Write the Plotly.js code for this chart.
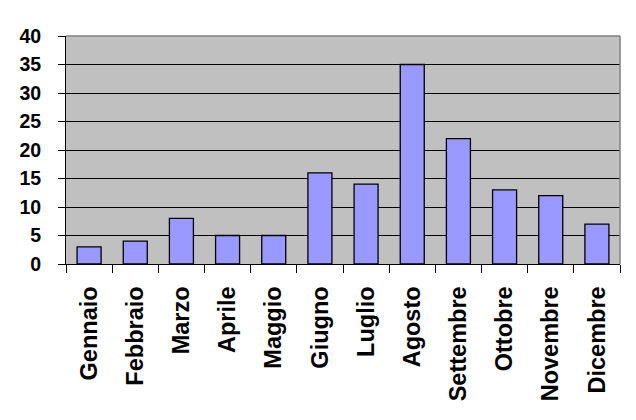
<!DOCTYPE html>
<html>
<head>
<meta charset="utf-8">
<script src="https://cdn.plot.ly/plotly-3.0.1.min.js"></script>
<style>
  html, body { margin: 0; padding: 0; background: #fff; }
  #chart { width: 636px; height: 420px; }
</style>
</head>
<body>
<div id="chart"></div>
<script>
const months = ['Gennaio', 'Febbraio', 'Marzo', 'Aprile', 'Maggio', 'Giugno',
                'Luglio', 'Agosto', 'Settembre', 'Ottobre', 'Novembre', 'Dicembre'];
const counts = [3, 4, 8, 5, 5, 16, 14, 35, 22, 13, 12, 7];
const yTicks = [0, 5, 10, 15, 20, 25, 30, 35, 40];

const font = 'Liberation Sans, Arial, sans-serif';

const trace = {
    type: 'bar',
    x: months,
    y: counts,
    marker: { color: '#9999ff', line: { color: '#000', width: 1.3 } },
    hoverinfo: 'x+y'
};

const layout = {
    width: 636,
    height: 420,
    margin: { l: 66, r: 16, t: 36, b: 156 },
    paper_bgcolor: '#fff',
    plot_bgcolor: '#c0c0c0',
    showlegend: false,
    bargap: 0.48,
    font: { family: font, color: '#000' },
    xaxis: {
        type: 'category',
        tickangle: -90,
        tickson: 'boundaries',
        ticks: 'outside',
        ticklen: 8,
        tickcolor: '#000',
        tickwidth: 1,
        showgrid: false,
        showline: true,
        linecolor: '#000',
        linewidth: 1,
        tickfont: { family: font, size: 23.5, weight: 'bold', color: '#000' },
        ticklabelstandoff: 12
    },
    yaxis: {
        range: [0, 40],
        tickvals: yTicks,
        ticktext: yTicks.map(String),
        ticks: 'outside',
        ticklen: 7,
        tickcolor: '#000',
        showgrid: true,
        gridcolor: '#000',
        gridwidth: 1,
        zeroline: false,
        showline: true,
        linecolor: '#000',
        linewidth: 1,
        tickfont: { family: font, size: 19.5, weight: 'bold', color: '#000' },
        ticklabelstandoff: 13
    },
    shapes: [
        // grey frame on the top and right of the plot area
        { type: 'line', xref: 'paper', yref: 'paper', x0: 0, x1: 1, y0: 1, y1: 1,
          line: { color: '#808080', width: 1.5 } },
        { type: 'line', xref: 'paper', yref: 'paper', x0: 1, x1: 1, y0: 0, y1: 1,
          line: { color: '#808080', width: 1.5 } }
    ]
};

Plotly.newPlot('chart', [trace], layout, { displayModeBar: false, staticPlot: true });
</script>
</body>
</html>
